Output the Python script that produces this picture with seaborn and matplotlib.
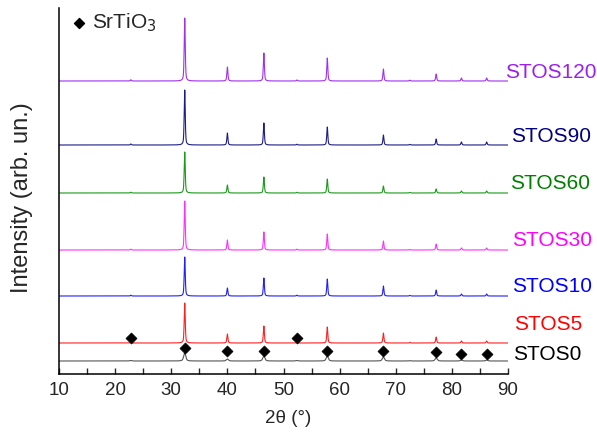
import numpy as np
import pandas as pd
import matplotlib
matplotlib.use("Agg")
import matplotlib.pyplot as plt
import seaborn as sns

# Reflection positions (2theta, degrees) of the perovskite phase
peak_pos = [22.8, 32.4, 40.0, 46.5, 52.4, 57.8, 67.8, 72.5, 77.2, 81.7, 86.2]

samples = ["STOS0", "STOS5", "STOS10", "STOS30", "STOS60", "STOS90", "STOS120"]
colors = ["#555555", "#FF2020", "#2020FF", "#FF30FF", "#1A9A1A", "#1C1C88", "#A030F0"]
label_colors = ["#000000", "#FF0000", "#0000FF", "#FF00FF", "#008000", "#000080", "#9A20F0"]

# Stacking offsets of each pattern (arb. un.)
offsets = [13, 31, 78, 124, 181, 229, 293]

# Peak intensities per sample, in the order of peak_pos
h_stos0 = [0.5, 8, 2, 5, 0.5, 5, 4, 0.3, 3, 1, 1]
h_stos5 = [0.8, 40, 9, 17, 0.8, 16, 10, 0.5, 6, 2, 2]
h_stos10 = [0.8, 39, 8, 18, 0.8, 17, 10, 0.6, 6, 2, 2]
h_stos30 = [0.8, 49, 10, 18, 0.8, 16, 9, 0.5, 6, 2, 2]
h_stos60 = [0.8, 41, 8, 16, 0.8, 14, 7, 0.5, 4, 2, 2]
h_stos90 = [1.0, 55, 12, 22, 0.8, 18, 10, 0.6, 6, 3, 3]
h_stos120 = [1.2, 63, 14, 28, 1.0, 23, 12, 0.8, 7, 3, 3]
heights = [h_stos0, h_stos5, h_stos10, h_stos30, h_stos60, h_stos90, h_stos120]
widths = [0.45, 0.22, 0.22, 0.22, 0.22, 0.22, 0.22]

# Label anchor (2theta, height) for each sample name
label_x = [90.9, 91.1, 90.75, 90.75, 90.4, 90.57, 89.5]
label_y = [19, 49, 87, 134, 191, 238, 302]

# Reflection markers
mark0_x = [32.4, 40.0, 46.5, 57.8, 67.8, 77.2, 81.7, 86.2]
mark0_y = [26, 23, 23, 23, 23, 22, 20, 20]
mark5_x = [22.8, 52.4]
mark5_y = [36, 36]

two_theta = np.arange(10.0, 90.0 + 1e-9, 0.02)


def pattern(h, w, base):
    y = np.full_like(two_theta, float(base))
    for p, a in zip(peak_pos, h):
        g = np.exp(-4 * np.log(2) * ((two_theta - p) / w) ** 2)
        lz = 1.0 / (1.0 + 4 * ((two_theta - p) / w) ** 2)
        y += a * (0.5 * g + 0.5 * lz)
    return y


frames = []
for name, h, w, off in zip(samples, heights, widths, offsets):
    frames.append(pd.DataFrame({"two_theta": two_theta,
                                "intensity": pattern(h, w, off),
                                "sample": name}))
df = pd.concat(frames, ignore_index=True)

sns.set_theme(style="ticks")
plt.rcParams["font.family"] = ["Liberation Sans", "DejaVu Sans"]

fig = plt.figure(figsize=(5.97, 4.34), dpi=100)
ax = fig.add_axes([59 / 597, 1 - 374 / 434, 449 / 597, 366 / 434])

sns.lineplot(data=df, x="two_theta", y="intensity", hue="sample",
             hue_order=samples, palette=colors, linewidth=0.8,
             legend=False, ax=ax, estimator=None, sort=False)

for name, lx, ly, c in zip(samples, label_x, label_y, label_colors):
    ax.text(lx, ly, name, color=c, fontsize=15, ha="left", va="center",
            clip_on=False)

sns.scatterplot(x=mark0_x, y=mark0_y, marker="D", color="black", s=32,
                edgecolor="black", ax=ax, zorder=5)
sns.scatterplot(x=mark5_x, y=mark5_y, marker="D", color="black", s=32,
                edgecolor="black", ax=ax, zorder=5)

# Phase key
ax.scatter([13.5], [351], marker="D", color="black", s=26, zorder=5)
ax.text(15.8, 351, r"SrTiO$_3$", fontsize=15, ha="left", va="center")

ax.set_xlim(10, 90)
ax.set_ylim(0, 366)
ax.set_xticks(np.arange(10, 91, 10))
ax.set_xticks(np.arange(15, 90, 10), minor=True)
ax.set_yticks([])
ax.tick_params(axis="x", which="both", direction="in", length=4, width=1.0,
               labelsize=13.5, pad=6)
ax.set_xlabel("2θ (°)", fontsize=13.5)
ax.xaxis.set_label_coords((288 - 59) / 449, -(410 - 374) / 366)
ax.set_ylabel("Intensity (arb. un.)", fontsize=17)
ax.yaxis.set_label_coords(-(59 - 33) / 449, (374 - 198) / 366)
sns.despine(ax=ax)
for s in ("left", "bottom"):
    ax.spines[s].set_linewidth(1.1)
    ax.spines[s].set_color("black")

fig.savefig("out.png", dpi=100)
